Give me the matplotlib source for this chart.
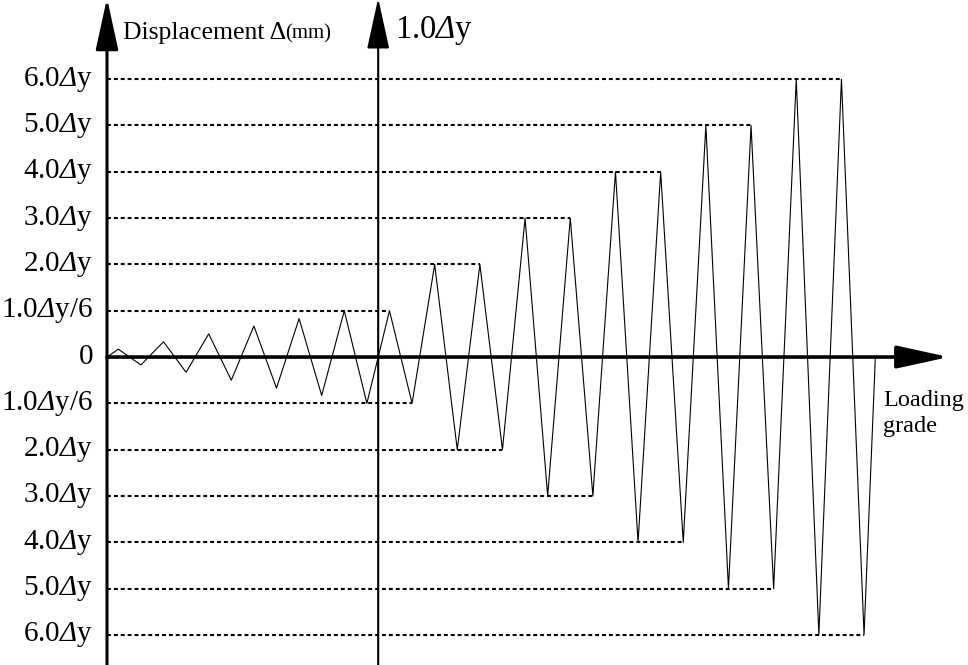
import numpy as np
import matplotlib

matplotlib.use("Agg")
import matplotlib.pyplot as plt

plt.rcParams.update({
    "font.family": "Liberation Serif",
    "mathtext.fontset": "custom",
    "mathtext.rm": "Liberation Serif",
    "mathtext.it": "Liberation Serif:italic",
    "mathtext.sf": "Liberation Serif:italic",  # used for the italic capital Delta
})

D = r"$\mathsf{\Delta}$"

# displacement levels (in units of one grid step) and their labels
levels = [6, 5, 4, 3, 2, 1, 0, -1, -2, -3, -4, -5, -6]
level_labels = [
    "6.0" + D + "y", "5.0" + D + "y", "4.0" + D + "y", "3.0" + D + "y",
    "2.0" + D + "y", "1.0" + D + "y/6", "0", "1.0" + D + "y/6",
    "2.0" + D + "y", "3.0" + D + "y", "4.0" + D + "y", "5.0" + D + "y",
    "6.0" + D + "y",
]

# amplitude of each loading cycle (grid steps)
cycle_amps = [0.17, 0.33, 0.5, 0.67, 0.83, 1, 1, 2, 2, 3, 3, 4, 4, 5, 5, 6, 6]
yield_t = 12  # position of the 1.0 Δy marker line

# build the zig-zag: peak then trough for every cycle
t = [0.0]
d = [0.0]
for i, a in enumerate(cycle_amps):
    t += [2 * i + 0.5, 2 * i + 1.5]
    d += [a, -a]
t.append(2 * len(cycle_amps))
d.append(0.0)

fig = plt.figure(figsize=(9.68, 6.65), dpi=100)
ax = fig.add_axes([0, 0, 1, 1])
ax.set_xlim(-4.735, 38.1)
ax.set_ylim(-6.65, 7.71)
ax.axis("off")

ax.plot(t, d, color="black", lw=0.8, zorder=3)

# dashed guides from the axis to the last peak / trough of each level
for L in range(1, 7):
    idx = max(i for i, a in enumerate(cycle_amps) if a == L)
    for sgn, off in ((1, 0.5), (-1, 1.5)):
        ax.plot([0, 2 * idx + off], [sgn * L, sgn * L], color="black",
                lw=1.5, ls=(0, (1.9, 1.4)), zorder=2)

# axes with arrows
arrow = dict(arrowstyle="-|>,head_length=1.6,head_width=0.35",
             mutation_scale=20, color="black", shrinkA=0, shrinkB=0)
ax.annotate("", xy=(0, 7.75), xytext=(0, -6.7), annotation_clip=False,
            arrowprops=dict(arrow, lw=2.2), zorder=4)
ax.annotate("", xy=(yield_t, 7.75), xytext=(yield_t, -6.7),
            annotation_clip=False, arrowprops=dict(arrow, lw=1.5), zorder=4)
ax.annotate("", xy=(37.25, 0), xytext=(0, 0), annotation_clip=False,
            arrowprops=dict(arrow, lw=2.6), zorder=4)

# level labels
for L, lab in zip(levels, level_labels):
    ax.text(-0.62, L, lab, ha="right", va="center", fontsize=21)

ax.text(0.7, 7.0, "Displacement \u0394", fontsize=18.5, va="center")
ax.text(7.9, 6.98, "(mm)", fontsize=15, va="center")
ax.text(12.75, 7.05, "1.0" + D + "y", fontsize=23.5, va="center")
ax.text(34.35, -1.22, "Loading\ngrade", fontsize=17.5, va="center",
        linespacing=1.3)

fig.savefig("out.png", dpi=100, facecolor="white")
